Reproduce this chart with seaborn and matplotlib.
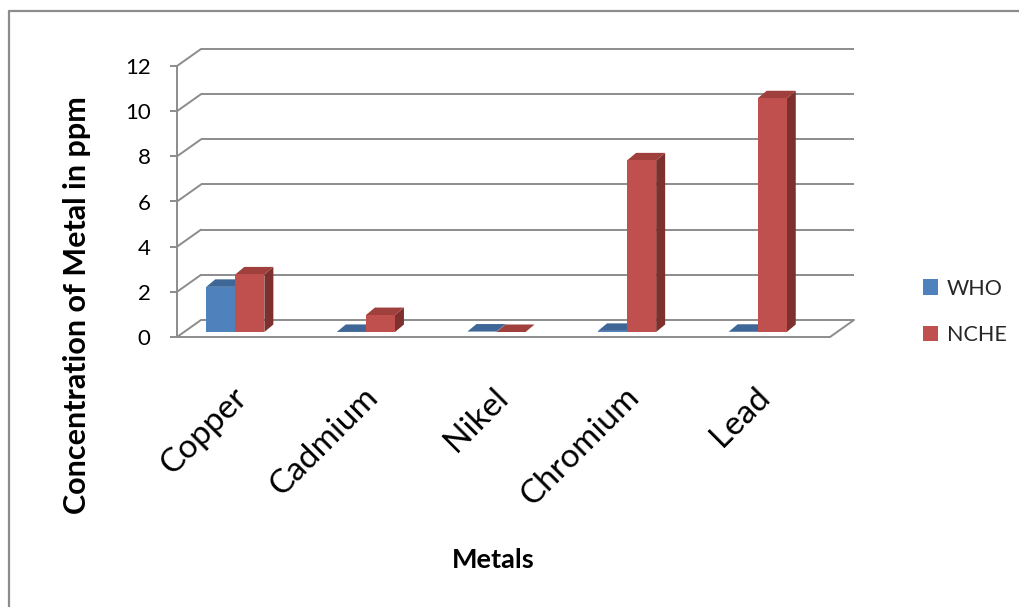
import matplotlib
matplotlib.use("Agg")
import numpy as np
import pandas as pd
import matplotlib.pyplot as plt
import matplotlib.colors as mcolors
import seaborn as sns
from matplotlib.transforms import ScaledTranslation
from matplotlib.patches import Polygon, Patch
from matplotlib.lines import Line2D

# ---- data ----
metals = ["Copper", "Cadmium", "Nikel", "Chromium", "Lead"]
series = ["WHO", "NCHE"]
who_values = [2.0, 0.003, 0.02, 0.05, 0.01]
nche_values = [2.55, 0.75, 0.0, 7.6, 10.35]
y_ticks = [0, 2, 4, 6, 8, 10, 12]

# ---- style ----
front_colors = {"WHO": "#4F81BD", "NCHE": "#C0504D"}
top_colors = {"WHO": "#3E6797", "NCHE": "#A0403D"}
side_colors = {"WHO": "#385D8A", "NCHE": "#7E302E"}
grid_color = "#8C8C8C"
grid_lw = 1.4

sns.set_theme(style="white")
plt.rcParams["font.family"] = ["Lato", "DejaVu Sans"]

W, H = 1019, 607
fig = plt.figure(figsize=(W / 100, H / 100), dpi=100)
ax = fig.add_axes([177 / W, 1 - 337 / H, (830 - 177) / W, (337 - 66) / H])

df = pd.DataFrame({
    "Metal": metals * 2,
    "Standard": ["WHO"] * len(metals) + ["NCHE"] * len(metals),
    "Value": who_values + nche_values,
})

sns.barplot(data=df, x="Metal", y="Value", hue="Standard", order=metals,
            hue_order=series, palette=front_colors, width=0.445,
            saturation=1, errorbar=None, legend=False, linewidth=0, ax=ax)

ax.set_xlim(-0.5, len(metals) - 0.5)
ax.set_ylim(0, 12)
for s in ax.spines.values():
    s.set_visible(False)

# pixel -> data unit conversion (axes fixed)
ppx = ax.bbox.width / len(metals)
ppy = ax.bbox.height / 12.0

# back wall offset
bdx, bdy = 24 / ppx, 17 / ppy
# bar depth
ddx, ddy = 9 / ppx, 7.5 / ppy
bar_shift = ScaledTranslation(-7 / 100, 5 / 100, fig.dpi_scale_trans)

# back wall gridlines + side diagonals
x_lo, x_hi = -0.5, len(metals) - 0.5
for v in y_ticks:
    ax.plot([x_lo + bdx, x_hi + bdx], [v + bdy, v + bdy], color=grid_color,
            lw=grid_lw, zorder=1, clip_on=False, solid_capstyle="butt")
    ax.plot([x_lo, x_lo + bdx], [v, v + bdy], color=grid_color,
            lw=grid_lw, zorder=1, clip_on=False)
# front vertical axis line
ax.plot([x_lo, x_lo], [0, 12], color=grid_color, lw=grid_lw, zorder=1, clip_on=False)
# floor front & right edge
ax.plot([x_lo, x_hi], [0, 0], color=grid_color, lw=grid_lw, zorder=1, clip_on=False)
ax.plot([x_hi, x_hi + bdx], [0, bdy], color=grid_color, lw=grid_lw, zorder=1, clip_on=False)

# 3D faces for bars
bars = sorted(list(ax.patches), key=lambda b: b.get_x())
hex_to_series = {mcolors.to_hex(c).lower(): k for k, c in front_colors.items()}
for i, b in enumerate(bars):
    key = hex_to_series.get(mcolors.to_hex(b.get_facecolor()).lower(), "WHO")
    x0, w, h = b.get_x(), b.get_width(), b.get_height()
    z = 3 + i * 0.01
    tr = ax.transData + bar_shift
    b.set_transform(tr)
    b.set_zorder(z + 0.003)
    b.set_clip_on(False)
    top = Polygon([(x0, h), (x0 + w, h), (x0 + w + ddx, h + ddy), (x0 + ddx, h + ddy)],
                  closed=True, facecolor=top_colors[key], edgecolor="none",
                  transform=tr, zorder=z + 0.002, clip_on=False)
    side = Polygon([(x0 + w, 0), (x0 + w, h), (x0 + w + ddx, h + ddy), (x0 + w + ddx, ddy)],
                   closed=True, facecolor=side_colors[key], edgecolor="none",
                   transform=tr, zorder=z + 0.001, clip_on=False)
    ax.add_patch(side)
    ax.add_patch(top)

# ticks
ax.set_yticks(y_ticks)
ax.set_yticklabels([str(t) for t in y_ticks])
ax.tick_params(axis="y", left=True, length=5, width=grid_lw, color=grid_color,
               pad=14, labelsize=16, labelcolor="black")
ax.set_xticks(range(len(metals)))
ax.set_xticklabels(metals)
ax.tick_params(axis="x", bottom=True, length=0, pad=40, labelsize=24, labelcolor="black")
for lab in ax.get_xticklabels():
    lab.set_rotation(45)
    lab.set_ha("right")
    lab.set_va("center")
    lab.set_rotation_mode("anchor")
ax.set_xlabel("")
ax.set_ylabel("")

# titles
fig.text(77 / W, 1 - 305 / H, "Concentration of Metal in ppm", rotation=90,
         ha="center", va="center", fontsize=22, fontweight="bold", color="black")
fig.text(493 / W, 1 - 560 / H, "Metals", ha="center", va="center",
         fontsize=19.5, fontweight="bold", color="black")

# legend
handles = [Patch(facecolor=front_colors[s], edgecolor="none") for s in series]
fig.legend(handles, series, loc="center left", bbox_to_anchor=(923 / W, 1 - 312 / H),
           frameon=False, handlelength=0.7, handleheight=0.7, handletextpad=0.4,
           labelspacing=1.25, fontsize=15.5, borderaxespad=0, borderpad=0)

# outer frame (partially visible)
fig.add_artist(Line2D([9 / W, 1], [1 - 11 / H, 1 - 11 / H], transform=fig.transFigure,
                      color=grid_color, lw=1.6))
fig.add_artist(Line2D([9 / W, 9 / W], [0, 1 - 11 / H], transform=fig.transFigure,
                      color=grid_color, lw=1.6))

fig.savefig("out.png", dpi=100)
